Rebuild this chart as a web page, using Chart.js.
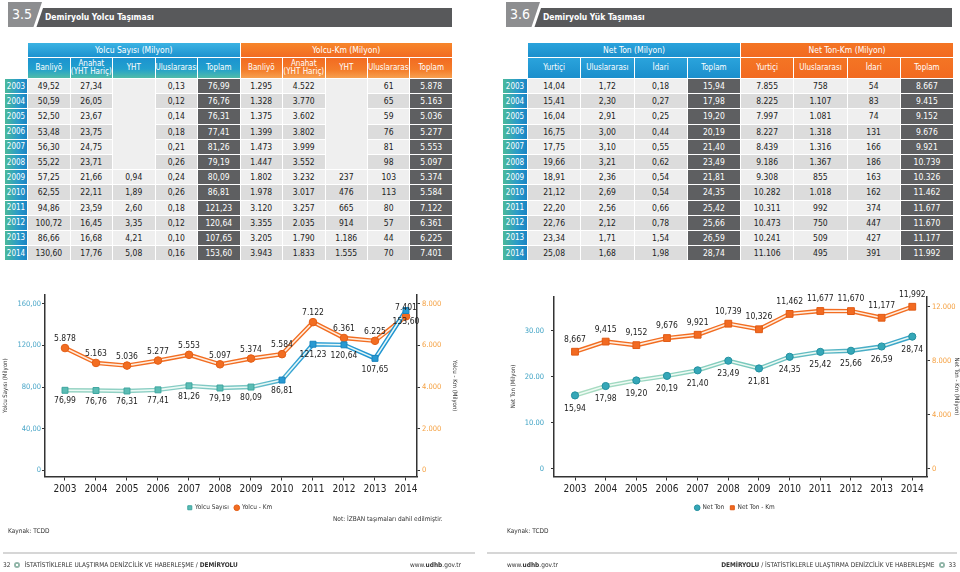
<!DOCTYPE html>
<html lang="tr">
<head>
<meta charset="utf-8">
<title>Demiryolu Yolcu ve Yük Taşıması</title>
<script src="https://cdn.jsdelivr.net/npm/chart.js@4.4.1/dist/chart.umd.min.js"></script>
<style>
html, body { margin: 0; padding: 0; }
body {
  width: 960px; height: 572px; position: relative; overflow: hidden; background: #fff;
  font-family: "Liberation Sans Narrow", "DejaVu Sans Condensed", "Roboto Condensed", Roboto, sans-serif;
  color: #222;
}
.secnum {
  position: absolute; top: 2px; width: 34px; height: 25px; background: #8d8e90; color: #fff;
  font-size: 14px; line-height: 25px; text-indent: 4px;
  clip-path: polygon(0 0, 100% 0, 75% 100%, 0 100%);
}
.bar {
  position: absolute; top: 8px; height: 19px; background: #58595b; color: #fff;
  font-size: 8.5px; font-weight: bold; line-height: 19px; text-indent: 10px;
  clip-path: polygon(8px 0, 100% 0, 100% 100%, 1.5px 100%);
}
table.data {
  position: absolute; border-collapse: separate; border-spacing: 1px; table-layout: fixed;
  font-size: 8.5px;
}
table.data th, table.data td { padding: 0; text-align: center; overflow: hidden; white-space: nowrap; }
th.blank { background: transparent; }
th.grp { height: 14px; color: #fff; font-weight: normal; font-size: 8.5px; }
th.sub { height: 20px; color: #fff; font-weight: normal; font-size: 8px; line-height: 8px; white-space: normal; }
.blue1 { background: linear-gradient(#3bb3e3, #1c92cf); }
.blue2 { background: linear-gradient(#1b93d0 0%, #22a0cd 55%, #50bca8 100%); }
.blue3 { background: linear-gradient(#2aa3dc, #1b8fcc); }
.orange1 { background: linear-gradient(#f7862a, #f26b22); }
.orange2 { background: linear-gradient(#f26b21 0%, #f47d2a 60%, #f7a050 100%); }
.orange3 { background: linear-gradient(#f47524, #f26a21); }
td.yr { height: 14.2px; color: #fff; font-size: 8px; background: linear-gradient(to right, #4bb99a, #2a9bc9 60%, #1a84c3); }
td.l { background: #efefef; }
td.d { background: #dcdcdc; }
td.tot { background: #5e5f61; color: #fff; }
canvas { position: absolute; }
.note { position: absolute; font-size: 6.5px; color: #333; }
.rule { position: absolute; top: 552px; height: 2px; background: #d6d6d6; }
.foot { position: absolute; top: 561px; font-size: 6.5px; color: #333; white-space: nowrap; }
.logo {
  display: inline-block; width: 6px; height: 6px; border-radius: 50%; margin: 0 4px;
  background: radial-gradient(circle, #fff 30%, #8fb9a8 35%, #9aa 100%); vertical-align: -1px;
}
</style>
</head>
<body>

<div class="bar" style="left:35px;width:417px">Demiryolu Yolcu Taşıması</div>
<div class="secnum" style="left:8px">3.5</div>
<div class="bar" style="left:533px;width:419px">Demiryolu Yük Taşıması</div>
<div class="secnum" style="left:506px">3.6</div>

<table class="data" style="left:4px;top:42px;width:449px">
  <colgroup><col style="width:22px"><col span="10" style="width:41.4px"></colgroup>
  <thead>
    <tr><th class="blank"></th><th class="grp blue1" colspan="5">Yolcu Sayısı (Milyon)</th><th class="grp orange1" colspan="5">Yolcu-Km (Milyon)</th></tr>
    <tr><th class="blank"></th>
      <th class="sub blue2">Banliyö</th><th class="sub blue2">Anahat<br>(YHT Hariç)</th><th class="sub blue2">YHT</th><th class="sub blue2">Uluslararası</th><th class="sub blue2">Toplam</th>
      <th class="sub orange2">Banliyö</th><th class="sub orange2">Anahat<br>(YHT Hariç)</th><th class="sub orange2">YHT</th><th class="sub orange2">Uluslararası</th><th class="sub orange2">Toplam</th>
    </tr>
  </thead>
  <tbody id="yolcuBody"></tbody>
</table>

<table class="data" style="left:502px;top:42px;width:452px">
  <colgroup><col style="width:24px"><col span="8" style="width:52.25px"></colgroup>
  <thead>
    <tr><th class="blank"></th><th class="grp blue3" colspan="4">Net Ton (Milyon)</th><th class="grp orange3" colspan="4">Net Ton-Km (Milyon)</th></tr>
    <tr><th class="blank"></th>
      <th class="sub blue3">Yurtiçi</th><th class="sub blue3">Uluslararası</th><th class="sub blue3">İdari</th><th class="sub blue3">Toplam</th>
      <th class="sub orange3">Yurtiçi</th><th class="sub orange3">Uluslararası</th><th class="sub orange3">İdari</th><th class="sub orange3">Toplam</th>
    </tr>
  </thead>
  <tbody id="yukBody"></tbody>
</table>

<canvas id="yolcuChart" width="460" height="236" style="left:0;top:285px"></canvas>
<canvas id="yukChart" width="454" height="236" style="left:508px;top:285px"></canvas>

<div class="note" style="left:333px;top:515px">Not: İZBAN taşımaları dahil edilmiştir.</div>
<div class="note" style="left:8px;top:527px">Kaynak: TCDD</div>
<div class="note" style="left:507px;top:527px">Kaynak: TCDD</div>

<div class="rule" style="left:3px;width:472px"></div>
<div class="rule" style="left:487px;width:470px"></div>
<div class="foot" style="left:3px">32<span class="logo"></span>İSTATİSTİKLERLE ULAŞTIRMA DENİZCİLİK VE HABERLEŞME / <b>DEMİRYOLU</b></div>
<div class="foot" style="left:410px">www.<b>udhb</b>.gov.tr</div>
<div class="foot" style="left:507px">www.<b>udhb</b>.gov.tr</div>
<div class="foot" style="right:4px"><b>DEMİRYOLU</b> / İSTATİSTİKLERLE ULAŞTIRMA DENİZCİLİK VE HABERLEŞME<span class="logo"></span>33</div>

<script>
// Data
const years = [2003, 2004, 2005, 2006, 2007, 2008, 2009, 2010, 2011, 2012, 2013, 2014];

// Yolcu Sayısı (Milyon)
const yolcuBanliyo = [49.52, 50.59, 52.50, 53.48, 56.30, 55.22, 57.25, 62.55, 94.86, 100.72, 86.66, 130.60];
const yolcuAnahat = [27.34, 26.05, 23.67, 23.75, 24.75, 23.71, 21.66, 22.11, 23.59, 16.45, 16.68, 17.76];
const yolcuYht = [null, null, null, null, null, null, 0.94, 1.89, 2.60, 3.35, 4.21, 5.08];
const yolcuUluslararasi = [0.13, 0.12, 0.14, 0.18, 0.21, 0.26, 0.24, 0.26, 0.18, 0.12, 0.10, 0.16];
const yolcuToplam = [76.99, 76.76, 76.31, 77.41, 81.26, 79.19, 80.09, 86.81, 121.23, 120.64, 107.65, 153.60];

// Yolcu-Km (Milyon)
const yolcuKmBanliyo = [1295, 1328, 1375, 1399, 1473, 1447, 1802, 1978, 3120, 3355, 3205, 3943];
const yolcuKmAnahat = [4522, 3770, 3602, 3802, 3999, 3552, 3232, 3017, 3257, 2035, 1790, 1833];
const yolcuKmYht = [null, null, null, null, null, null, 237, 476, 665, 914, 1186, 1555];
const yolcuKmUluslararasi = [61, 65, 59, 76, 81, 98, 103, 113, 80, 57, 44, 70];
const yolcuKmToplam = [5878, 5163, 5036, 5277, 5553, 5097, 5374, 5584, 7122, 6361, 6225, 7401];

// Net Ton (Milyon)
const netTonYurtici = [14.04, 15.41, 16.04, 16.75, 17.75, 19.66, 18.91, 21.12, 22.20, 22.76, 23.34, 25.08];
const netTonUluslararasi = [1.72, 2.30, 2.91, 3.00, 3.10, 3.21, 2.36, 2.69, 2.56, 2.12, 1.71, 1.68];
const netTonIdari = [0.18, 0.27, 0.25, 0.44, 0.55, 0.62, 0.54, 0.54, 0.66, 0.78, 1.54, 1.98];
const netTonToplam = [15.94, 17.98, 19.20, 20.19, 21.40, 23.49, 21.81, 24.35, 25.42, 25.66, 26.59, 28.74];

// Net Ton-Km (Milyon)
const netTonKmYurtici = [7855, 8225, 7997, 8227, 8439, 9186, 9308, 10282, 10311, 10473, 10241, 11106];
const netTonKmUluslararasi = [758, 1107, 1081, 1318, 1316, 1367, 855, 1018, 992, 750, 509, 495];
const netTonKmIdari = [54, 83, 74, 131, 166, 186, 163, 162, 374, 447, 427, 391];
const netTonKmToplam = [8667, 9415, 9152, 9676, 9921, 10739, 10326, 11462, 11677, 11670, 11177, 11992];

// Axis ticks
const yolcuSayisiTicks = [0, 40, 80, 120, 160];
const yolcuKmTicks = [0, 2000, 4000, 6000, 8000];
const netTonTicks = [0, 10, 20, 30];
const netTonKmTicks = [0, 4000, 8000, 12000];

const FONT = '"Liberation Sans Narrow", "DejaVu Sans Condensed", "Roboto Condensed", Roboto, sans-serif';

// Number formats
function trDec(v) { return v.toFixed(2).replace('.', ','); }
function trInt(v) { return String(v).replace(/\B(?=(\d{3})+(?!\d))/g, '.'); }
function enInt(v) { return String(v).replace(/\B(?=(\d{3})+(?!\d))/g, ','); }

// Tables
function fillTable(bodyId, cols) {
  const body = document.getElementById(bodyId);
  years.forEach((yr, i) => {
    const tr = document.createElement('tr');
    const shade = i % 2 === 0 ? 'l' : 'd';
    let html = '<td class="yr">' + yr + '</td>';
    cols.forEach(c => {
      const v = c.data[i];
      if (v === null) {
        // empty YHT years are one merged cell
        if (i === c.data.indexOf(null)) {
          html += '<td class="l" rowspan="' + c.data.filter(x => x === null).length + '"></td>';
        }
        return;
      }
      html += '<td class="' + (c.total ? 'tot' : shade) + '">' + c.fmt(v) + '</td>';
    });
    tr.innerHTML = html;
    body.appendChild(tr);
  });
}

fillTable('yolcuBody', [
  { data: yolcuBanliyo, fmt: trDec },
  { data: yolcuAnahat, fmt: trDec },
  { data: yolcuYht, fmt: trDec },
  { data: yolcuUluslararasi, fmt: trDec },
  { data: yolcuToplam, fmt: trDec, total: true },
  { data: yolcuKmBanliyo, fmt: trInt },
  { data: yolcuKmAnahat, fmt: trInt },
  { data: yolcuKmYht, fmt: trInt },
  { data: yolcuKmUluslararasi, fmt: trInt },
  { data: yolcuKmToplam, fmt: trInt, total: true }
]);

fillTable('yukBody', [
  { data: netTonYurtici, fmt: trDec },
  { data: netTonUluslararasi, fmt: trDec },
  { data: netTonIdari, fmt: trDec },
  { data: netTonToplam, fmt: trDec, total: true },
  { data: netTonKmYurtici, fmt: trInt },
  { data: netTonKmUluslararasi, fmt: trInt },
  { data: netTonKmIdari, fmt: trInt },
  { data: netTonKmToplam, fmt: trInt, total: true }
]);

// Charts
Chart.defaults.font.family = FONT;
Chart.defaults.animation = false;

// value labels next to the markers
const valueLabels = {
  id: 'valueLabels',
  afterDatasetsDraw(chart) {
    const ctx = chart.ctx;
    chart.data.datasets.forEach((ds, di) => {
      if (!ds.valueLabel) return;
      const meta = chart.getDatasetMeta(di);
      ctx.save();
      ctx.font = '8.5px ' + FONT;
      ctx.fillStyle = '#222';
      ctx.textAlign = 'center';
      ctx.textBaseline = 'middle';
      meta.data.forEach((pt, i) => {
        ctx.fillText(ds.valueLabel.fmt(ds.data[i].y), pt.x, pt.y + ds.valueLabel.dy);
      });
      ctx.restore();
    });
  }
};

function gradient(stops) {
  return ctx => {
    const area = ctx.chart.chartArea;
    if (!area) return stops[0][1];
    const g = ctx.chart.ctx.createLinearGradient(area.left, 0, area.right, 0);
    stops.forEach(s => g.addColorStop(s[0], s[1]));
    return g;
  };
}

// each series = thick line, light stripe on it, markers on top
function series(label, values, axis, o) {
  const data = years.map((y, i) => ({ x: y, y: values[i] }));
  return [
    { label: label, data: data, yAxisID: axis, showLine: false, clip: false,
      pointStyle: o.pointStyle, pointRadius: o.radius, pointHoverRadius: o.radius,
      pointBackgroundColor: o.pointColor, pointBorderColor: o.pointBorder, pointBorderWidth: 1,
      backgroundColor: o.pointColor, borderColor: o.pointBorder,
      order: o.order, valueLabel: o.valueLabel },
    { label: label + ' iç', data: data, yAxisID: axis, helper: true, clip: false,
      borderColor: o.stripe, borderWidth: 1.6, pointRadius: 0, tension: 0, order: o.order + 2 },
    { label: label + ' çizgi', data: data, yAxisID: axis, helper: true, clip: false,
      borderColor: o.line, borderWidth: 4.4, pointRadius: 0, tension: 0, order: o.order + 3 }
  ];
}

function xAxis(min, max) {
  return {
    type: 'linear', min: min, max: max,
    afterBuildTicks: s => { s.ticks = years.map(v => ({ value: v })); },
    afterFit: s => { s.height = 22; },
    ticks: { autoSkip: false, maxRotation: 0, color: '#222', font: { size: 10 }, padding: 3,
      callback: v => String(v) },
    grid: { drawOnChartArea: false, tickLength: 4, color: '#333', lineWidth: 1 },
    border: { display: true, color: '#333', width: 1.5 }
  };
}

function yAxis(pos, min, max, ticks, fmt, color, title, width, pad) {
  return {
    type: 'linear', position: pos, min: min, max: max,
    afterBuildTicks: s => { s.ticks = ticks.map(v => ({ value: v })); },
    afterFit: s => { s.width = width; },
    ticks: { color: color, font: { size: 7.5 }, padding: pad, callback: v => (v === 0 ? '0' : fmt(v)) },
    grid: { drawOnChartArea: false, tickLength: 3, color: '#333', lineWidth: 1 },
    border: { display: true, color: '#333', width: 1.5 },
    title: { display: true, text: title, color: '#333', font: { size: 6 }, padding: { top: 2, bottom: 2 } }
  };
}

function legendOpts() {
  return {
    position: 'bottom',
    labels: {
      usePointStyle: true, boxWidth: 4, boxHeight: 4, padding: 6, color: '#333', font: { size: 6.5 },
      filter: (item, data) => !data.datasets[item.datasetIndex].helper
    }
  };
}

// Yolcu chart
new Chart(document.getElementById('yolcuChart'), {
  type: 'line',
  data: {
    datasets: [
      ...series('Yolcu Sayısı', yolcuToplam, 'y', {
        pointStyle: 'rect', radius: 4.2, order: 0,
        pointColor: ctx => (ctx.dataIndex < 7 ? '#5bbdb5' : '#2799d2'),
        pointBorder: ctx => (ctx.dataIndex < 7 ? '#3ea59f' : '#1a84bd'),
        stripe: 'rgba(240,252,248,0.95)',
        line: gradient([[0, '#9dd6c4'], [0.55, '#79c6c4'], [0.68, '#2e9fd4'], [1, '#1a91d0']]),
        valueLabel: { dy: 11, fmt: trDec }
      }),
      ...series('Yolcu - Km', yolcuKmToplam, 'y2', {
        pointStyle: 'circle', radius: 3.8, order: 1,
        pointColor: '#f26d21', pointBorder: '#e35d15',
        stripe: 'rgba(255,244,234,0.95)',
        line: '#f26d21',
        valueLabel: { dy: -9, fmt: trInt }
      })
    ]
  },
  plugins: [valueLabels],
  options: {
    responsive: false,
    layout: { padding: { top: 10, right: 0, bottom: 0, left: 0 } },
    plugins: { legend: legendOpts(), tooltip: { enabled: false } },
    scales: {
      x: xAxis(2002.355, 2014.355),
      y: yAxis('left', -5.8, 168.5, yolcuSayisiTicks, trDec, '#4aa6c8', 'Yolcu Sayısı (Milyon)', 45, 1),
      y2: yAxis('right', -290, 8425, yolcuKmTicks, trInt, '#f5a040', 'Yolcu - Km (Milyon)', 43, 2)
    }
  }
});

// Yük chart
new Chart(document.getElementById('yukChart'), {
  type: 'line',
  data: {
    datasets: [
      ...series('Net Ton', netTonToplam, 'y', {
        pointStyle: 'circle', radius: 3.6, order: 0,
        pointColor: '#35a7b8', pointBorder: '#23909f',
        stripe: 'rgba(242,252,246,0.95)',
        line: gradient([[0, '#b3e0c3'], [0.5, '#7ccabd'], [1, '#2f9fcb']]),
        valueLabel: { dy: 13, fmt: trDec }
      }),
      ...series('Net Ton - Km', netTonKmToplam, 'y2', {
        pointStyle: 'rect', radius: 4.8, order: 1,
        pointColor: '#f26a21', pointBorder: '#e05a14',
        stripe: 'rgba(255,244,234,0.95)',
        line: '#f26d21',
        valueLabel: { dy: -12, fmt: enInt }
      })
    ]
  },
  plugins: [valueLabels],
  options: {
    responsive: false,
    layout: { padding: { top: 8, right: 0, bottom: 0, left: 0 } },
    plugins: { legend: legendOpts(), tooltip: { enabled: false } },
    scales: {
      x: xAxis(2002.315, 2014.48),
      y: yAxis('left', -1.71, 37.47, netTonTicks, v => v.toFixed(2), '#3da2c4', 'Net Ton (Milyon)', 46, 7),
      y2: yAxis('right', -560, 12749, netTonKmTicks, trInt, '#f5a040', 'Net Ton - Km (Milyon)', 35, 2)
    }
  }
});
</script>
</body>
</html>
